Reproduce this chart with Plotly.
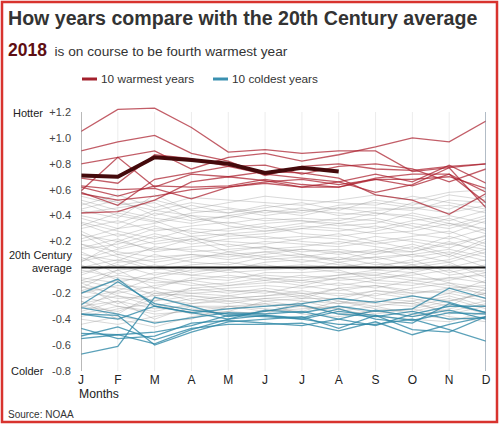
import plotly.graph_objects as go

months = ["J", "F", "M", "A", "M", "J", "J", "A", "S", "O", "N", "D"]
y_tick_vals = [1.2, 1.0, 0.8, 0.6, 0.4, 0.2, -0.2, -0.4, -0.6, -0.8]
y_tick_text = ["+1.2", "+1.0", "+0.8", "+0.6", "+0.4", "+0.2", "-0.2", "-0.4", "-0.6", "-0.8"]

year_2018 = [0.71, 0.70, 0.85, 0.83, 0.80, 0.73, 0.77, 0.74]

warmest_years = [
    [1.05, 1.22, 1.23, 1.08, 0.89, 0.91, 0.88, 0.90, 0.90, 0.74, 0.77, 0.80],
    [0.80, 0.85, 0.90, 0.76, 0.85, 0.88, 0.82, 0.87, 0.93, 1.00, 0.97, 1.13],
    [0.90, 0.97, 1.02, 0.88, 0.82, 0.71, 0.78, 0.80, 0.76, 0.75, 0.78, 0.80],
    [0.58, 0.48, 0.68, 0.73, 0.78, 0.79, 0.72, 0.78, 0.80, 0.76, 0.66, 0.76],
    [0.69, 0.65, 0.87, 0.84, 0.78, 0.72, 0.69, 0.66, 0.58, 0.64, 0.77, 0.46],
    [0.62, 0.55, 0.63, 0.62, 0.63, 0.68, 0.64, 0.62, 0.68, 0.68, 0.70, 0.61],
    [0.59, 0.85, 0.62, 0.72, 0.70, 0.74, 0.73, 0.69, 0.56, 0.52, 0.41, 0.57],
    [0.63, 0.60, 0.61, 0.53, 0.62, 0.65, 0.62, 0.66, 0.72, 0.66, 0.79, 0.65],
    [0.57, 0.52, 0.55, 0.60, 0.62, 0.66, 0.68, 0.64, 0.68, 0.63, 0.72, 0.58],
    [0.42, 0.43, 0.52, 0.66, 0.70, 0.67, 0.62, 0.62, 0.69, 0.72, 0.72, 0.50],
]

coldest_years = [
    [-0.36, -0.37, -0.60, -0.50, -0.42, -0.40, -0.38, -0.47, -0.37, -0.48, -0.50, -0.38],
    [-0.20, -0.09, -0.30, -0.35, -0.40, -0.33, -0.35, -0.30, -0.34, -0.32, -0.16, -0.24],
    [-0.29, -0.11, -0.28, -0.33, -0.36, -0.37, -0.39, -0.32, -0.40, -0.43, -0.28, -0.35],
    [-0.67, -0.61, -0.23, -0.30, -0.38, -0.34, -0.29, -0.36, -0.38, -0.34, -0.40, -0.39],
    [-0.53, -0.46, -0.56, -0.47, -0.44, -0.44, -0.43, -0.49, -0.42, -0.52, -0.44, -0.38],
    [-0.55, -0.52, -0.50, -0.45, -0.37, -0.38, -0.40, -0.44, -0.44, -0.40, -0.48, -0.57],
    [-0.31, -0.36, -0.43, -0.39, -0.35, -0.36, -0.34, -0.40, -0.45, -0.36, -0.30, -0.30],
    [-0.51, -0.52, -0.59, -0.48, -0.40, -0.37, -0.40, -0.34, -0.37, -0.41, -0.35, -0.36],
    [-0.36, -0.40, -0.30, -0.35, -0.32, -0.30, -0.28, -0.24, -0.27, -0.22, -0.27, -0.35],
    [-0.47, -0.55, -0.53, -0.43, -0.41, -0.43, -0.45, -0.40, -0.33, -0.38, -0.33, -0.40],
]

other_years = [
    [0.55, 0.48, 0.52, 0.45, 0.50, 0.55, 0.52, 0.50, 0.48, 0.55, 0.50, 0.45],
    [0.45, 0.52, 0.40, 0.48, 0.42, 0.46, 0.50, 0.44, 0.52, 0.48, 0.56, 0.52],
    [0.38, 0.30, 0.42, 0.36, 0.40, 0.44, 0.40, 0.46, 0.42, 0.38, 0.32, 0.40],
    [0.50, 0.40, 0.35, 0.42, 0.45, 0.40, 0.44, 0.42, 0.40, 0.50, 0.45, 0.55],
    [0.30, 0.36, 0.28, 0.32, 0.35, 0.30, 0.34, 0.38, 0.36, 0.30, 0.38, 0.28],
    [0.42, 0.46, 0.50, 0.38, 0.34, 0.38, 0.36, 0.34, 0.30, 0.36, 0.40, 0.34],
    [0.25, 0.20, 0.30, 0.28, 0.24, 0.26, 0.30, 0.28, 0.32, 0.26, 0.22, 0.30],
    [0.35, 0.28, 0.22, 0.30, 0.28, 0.32, 0.26, 0.24, 0.28, 0.34, 0.30, 0.38],
    [0.20, 0.26, 0.18, 0.22, 0.20, 0.18, 0.22, 0.26, 0.20, 0.24, 0.28, 0.18],
    [0.28, 0.15, 0.24, 0.18, 0.22, 0.24, 0.20, 0.18, 0.24, 0.20, 0.15, 0.25],
    [0.15, 0.22, 0.12, 0.16, 0.18, 0.14, 0.16, 0.20, 0.16, 0.12, 0.20, 0.10],
    [0.10, 0.05, 0.16, 0.12, 0.14, 0.16, 0.12, 0.14, 0.10, 0.16, 0.08, 0.20],
    [0.18, 0.12, 0.08, 0.10, 0.06, 0.10, 0.14, 0.10, 0.14, 0.08, 0.12, 0.05],
    [0.05, 0.10, 0.04, 0.08, 0.10, 0.06, 0.08, 0.06, 0.08, 0.10, 0.04, 0.12],
    [0.12, 0.00, 0.10, 0.04, 0.02, 0.08, 0.04, 0.08, 0.02, 0.04, 0.10, 0.00],
    [0.00, 0.06, -0.02, 0.02, 0.04, 0.00, 0.02, 0.00, 0.04, -0.02, 0.00, 0.06],
    [0.08, -0.05, 0.02, -0.04, 0.00, 0.02, -0.02, 0.04, -0.02, 0.02, -0.06, -0.02],
    [-0.04, 0.02, -0.06, 0.00, -0.04, -0.02, 0.00, -0.04, -0.06, 0.00, 0.04, -0.08],
    [-0.08, -0.12, -0.04, -0.06, -0.08, -0.06, -0.08, -0.06, -0.04, -0.08, -0.10, -0.04],
    [-0.02, -0.08, -0.12, -0.10, -0.06, -0.10, -0.06, -0.10, -0.08, -0.06, -0.02, -0.12],
    [-0.12, -0.06, -0.10, -0.14, -0.12, -0.08, -0.12, -0.08, -0.12, -0.14, -0.08, -0.06],
    [-0.15, -0.20, -0.14, -0.10, -0.14, -0.12, -0.10, -0.14, -0.10, -0.12, -0.16, -0.14],
    [-0.10, -0.16, -0.20, -0.18, -0.16, -0.14, -0.16, -0.12, -0.16, -0.10, -0.14, -0.18],
    [-0.20, -0.14, -0.16, -0.20, -0.18, -0.20, -0.14, -0.18, -0.14, -0.18, -0.20, -0.10],
    [-0.18, -0.24, -0.22, -0.16, -0.20, -0.16, -0.20, -0.20, -0.22, -0.16, -0.12, -0.22],
    [-0.24, -0.18, -0.26, -0.22, -0.24, -0.22, -0.18, -0.22, -0.18, -0.22, -0.26, -0.20],
    [-0.14, -0.28, -0.18, -0.26, -0.22, -0.26, -0.24, -0.16, -0.24, -0.26, -0.20, -0.26],
    [-0.28, -0.22, -0.30, -0.24, -0.28, -0.24, -0.26, -0.28, -0.20, -0.24, -0.30, -0.16],
    [-0.30, -0.34, -0.24, -0.28, -0.26, -0.30, -0.28, -0.24, -0.28, -0.30, -0.24, -0.32],
    [-0.34, -0.26, -0.32, -0.30, -0.32, -0.28, -0.30, -0.32, -0.26, -0.28, -0.34, -0.28],
    [-0.22, -0.30, -0.36, -0.34, -0.30, -0.32, -0.34, -0.26, -0.32, -0.34, -0.28, -0.36],
    [-0.38, -0.32, -0.28, -0.36, -0.34, -0.26, -0.30, -0.34, -0.30, -0.26, -0.36, -0.30],
    [-0.40, -0.44, -0.38, -0.32, -0.36, -0.34, -0.32, -0.30, -0.36, -0.32, -0.38, -0.42],
    [-0.44, -0.38, -0.42, -0.40, -0.30, -0.28, -0.36, -0.38, -0.34, -0.38, -0.32, -0.26],
    [-0.26, -0.40, -0.46, -0.38, -0.34, -0.36, -0.26, -0.32, -0.38, -0.40, -0.42, -0.34],
    [0.32, 0.42, 0.36, 0.26, 0.30, 0.34, 0.36, 0.32, 0.34, 0.42, 0.36, 0.44],
    [0.22, 0.30, 0.34, 0.40, 0.32, 0.28, 0.30, 0.34, 0.38, 0.32, 0.26, 0.36],
    [0.40, 0.34, 0.44, 0.50, 0.46, 0.42, 0.46, 0.40, 0.44, 0.46, 0.42, 0.48],
    [0.48, 0.56, 0.46, 0.54, 0.52, 0.50, 0.48, 0.52, 0.56, 0.52, 0.58, 0.60],
    [0.14, 0.18, 0.26, 0.20, 0.26, 0.22, 0.24, 0.22, 0.18, 0.22, 0.18, 0.14],
    [0.06, 0.14, 0.20, 0.24, 0.16, 0.20, 0.18, 0.16, 0.20, 0.14, 0.24, 0.16],
    [-0.06, 0.04, 0.06, 0.10, 0.08, 0.12, 0.08, 0.12, 0.06, 0.10, 0.14, 0.08],
    [0.02, -0.10, -0.08, -0.02, -0.02, 0.04, 0.06, 0.02, 0.00, 0.06, -0.04, 0.02],
    [-0.16, -0.02, -0.16, -0.08, -0.10, -0.04, -0.04, -0.02, -0.10, -0.04, -0.12, -0.16],
    [-0.32, -0.18, -0.08, -0.12, -0.18, -0.18, -0.22, -0.16, -0.14, -0.20, -0.18, -0.24],
    [-0.36, -0.30, -0.34, -0.28, -0.24, -0.22, -0.20, -0.26, -0.30, -0.36, -0.40, -0.38],
    [0.58, 0.50, 0.44, 0.40, 0.38, 0.44, 0.42, 0.48, 0.50, 0.46, 0.48, 0.42],
    [0.26, 0.10, 0.14, 0.22, 0.12, 0.16, 0.10, 0.06, 0.12, 0.18, 0.10, 0.22],
    [-0.12, -0.22, -0.26, -0.16, -0.14, -0.10, -0.14, -0.08, -0.06, -0.10, -0.08, -0.12],
    [-0.26, -0.36, -0.20, -0.22, -0.26, -0.24, -0.22, -0.28, -0.26, -0.28, -0.22, -0.30],
    [0.52, 0.44, 0.38, 0.34, 0.40, 0.36, 0.38, 0.36, 0.42, 0.40, 0.34, 0.30],
    [0.34, 0.24, 0.32, 0.24, 0.26, 0.28, 0.32, 0.30, 0.26, 0.28, 0.34, 0.26],
    [0.18, 0.08, 0.00, 0.06, 0.12, 0.08, 0.10, 0.04, 0.08, 0.02, 0.06, 0.14],
    [-0.10, -0.02, 0.00, -0.06, -0.02, -0.08, -0.10, -0.06, -0.02, -0.04, 0.02, -0.04],
    [-0.18, -0.10, -0.22, -0.20, -0.22, -0.18, -0.24, -0.24, -0.18, -0.20, -0.16, -0.20],
    [-0.30, -0.26, -0.40, -0.30, -0.30, -0.34, -0.30, -0.36, -0.34, -0.32, -0.26, -0.20],
    [0.44, 0.38, 0.56, 0.44, 0.42, 0.48, 0.44, 0.46, 0.46, 0.44, 0.52, 0.50],
    [0.04, 0.20, 0.14, 0.14, 0.10, 0.12, 0.14, 0.12, 0.12, 0.12, 0.18, 0.24],
]

# ---- layout geometry (pixels) ----
W, H = 500, 428
Y_TOP_VAL, Y_BOT_VAL = 1.2, -0.8
Y_TOP_PX, Y_BOT_PX = 112, 371          # pixel rows of +1.2 and -0.8
PX_PER_UNIT = (Y_BOT_PX - Y_TOP_PX) / (Y_TOP_VAL - Y_BOT_VAL)
T = 102                                 # extra headroom so lines above +1.2 are not clipped
Y_RANGE_TOP = Y_TOP_VAL + (Y_TOP_PX - T) / PX_PER_UNIT
L, R, B = 81, 14, H - Y_BOT_PX
PW, PH = W - L - R, H - T - B

def px(x):
    return (x - L) / PW

def py(y):
    return (H - B - y) / PH

FONT = "Liberation Sans, Arial, Helvetica, sans-serif"
xs = list(range(12))

fig = go.Figure()

for row in other_years:
    fig.add_trace(go.Scatter(x=xs, y=row, mode="lines",
                             line=dict(color="rgba(150,150,150,0.36)", width=1),
                             hoverinfo="skip", showlegend=False))

fig.add_trace(go.Scatter(x=[0, 11], y=[0, 0], mode="lines",
                         line=dict(color="#1a1a1a", width=2),
                         hoverinfo="skip", showlegend=False))

for row in coldest_years:
    fig.add_trace(go.Scatter(x=xs, y=row, mode="lines",
                             line=dict(color="rgba(45,135,165,0.78)", width=1.3),
                             hoverinfo="skip", showlegend=False))

for row in warmest_years:
    fig.add_trace(go.Scatter(x=xs, y=row, mode="lines",
                             line=dict(color="rgba(170,30,45,0.72)", width=1.3),
                             hoverinfo="skip", showlegend=False))

fig.add_trace(go.Scatter(x=xs[:len(year_2018)], y=year_2018, mode="lines",
                         line=dict(color="#440a0c", width=4),
                         hoverinfo="skip", showlegend=False))

fig.update_xaxes(range=[0, 11], tickvals=xs, ticktext=months,
                 showgrid=False, zeroline=False, showline=False, ticks="",
                 tickfont=dict(family=FONT, size=12, color="#222"),
                 ticklabelstandoff=0, fixedrange=True, automargin=False)
fig.update_yaxes(range=[Y_BOT_VAL, Y_RANGE_TOP], tickvals=y_tick_vals, ticktext=y_tick_text,
                 showgrid=False, zeroline=False, showline=False, ticks="",
                 tickfont=dict(family=FONT, size=11, color="#444"),
                 ticklabelstandoff=9, fixedrange=True, automargin=False)

shapes = []
for i in xs[1:-1]:
    shapes.append(dict(type="line", xref="x", yref="y", x0=i, x1=i, y0=Y_BOT_VAL, y1=Y_TOP_VAL,
                       line=dict(color="#ececec", width=1), layer="below"))
shapes += [
    dict(type="line", xref="x", yref="y", x0=0, x1=0, y0=Y_BOT_VAL, y1=Y_TOP_VAL,
         line=dict(color="#8a8a8a", width=1.2)),
    dict(type="line", xref="x", yref="y", x0=11, x1=11, y0=Y_BOT_VAL, y1=Y_TOP_VAL,
         line=dict(color="#7f8fa0", width=1.2)),
    dict(type="line", xref="paper", yref="paper", x0=px(82), x1=px(97), y0=py(79), y1=py(79),
         line=dict(color="#a3202c", width=3)),
    dict(type="line", xref="paper", yref="paper", x0=px(213), x1=px(228), y0=py(79), y1=py(79),
         line=dict(color="#3a90b0", width=3)),
    dict(type="rect", xref="paper", yref="paper", x0=px(2), x1=px(497), y0=py(2), y1=py(422),
         line=dict(color="#d8332e", width=2.5)),
]

def ann(text, x, y, xanchor="left", size=12, color="#333", yanchor="middle"):
    return dict(text=text, x=px(x), y=py(y), xref="paper", yref="paper",
                xanchor=xanchor, yanchor=yanchor, showarrow=False,
                font=dict(family=FONT, size=size, color=color))

annotations = [
    ann("<b>How years compare with the 20th Century average</b>", 6, 18, size=19.6, color="#333"),
    ann("<span style='color:#5e0e12;font-size:17.5px'><b>2018</b></span>&nbsp; is on course to be fourth warmest year",
        6, 50, size=13.7, color="#333"),
    ann("10 warmest years", 99, 79, size=11.8, color="#333"),
    ann("10 coldest years", 230, 79, size=11.8, color="#333"),
    ann("Hotter", 11, 113, size=11, color="#222"),
    ann("Colder", 9, 371, size=11, color="#222"),
    ann("20th Century", 74, 255, xanchor="right", size=11, color="#222"),
    ann("average", 74, 268, xanchor="right", size=11, color="#222"),
    ann("Months", 77, 394, size=12.2, color="#222"),
    ann("Source: NOAA", 6, 414, size=10, color="#333"),
]

fig.update_layout(width=W, height=H,
                  margin=dict(l=L, r=R, t=T, b=B, pad=0),
                  paper_bgcolor="white", plot_bgcolor="white",
                  shapes=shapes, annotations=annotations,
                  showlegend=False, font=dict(family=FONT))

fig.write_html("out.html", config={"displayModeBar": False},
               post_script="document.body.style.margin='0';document.body.style.overflow='hidden';")
